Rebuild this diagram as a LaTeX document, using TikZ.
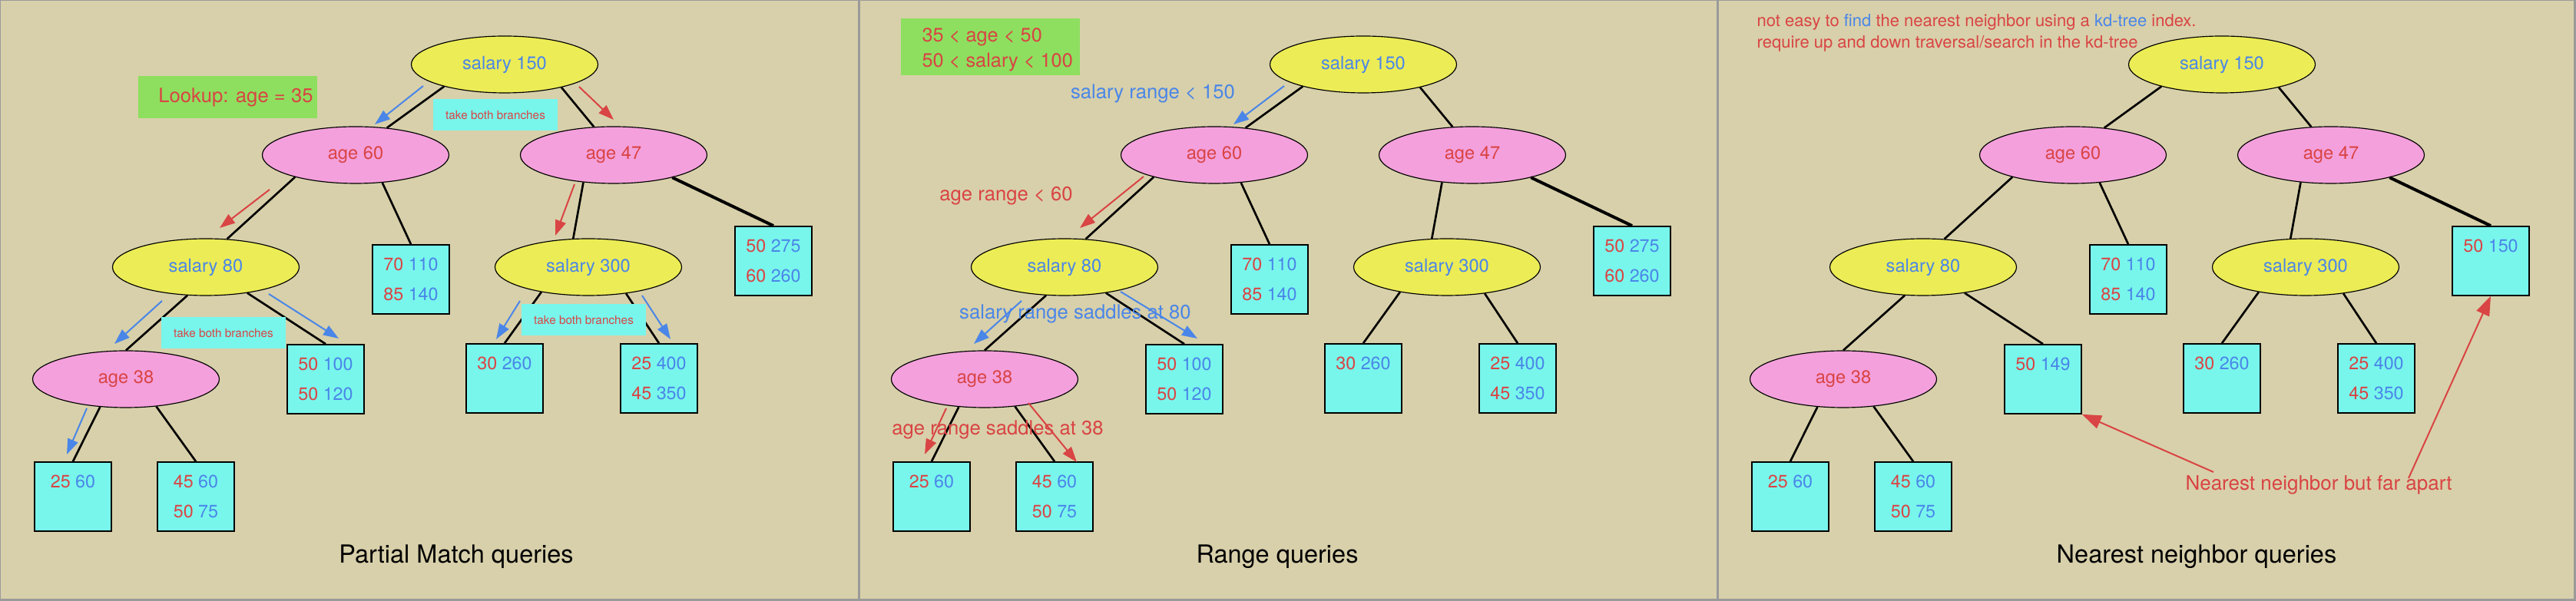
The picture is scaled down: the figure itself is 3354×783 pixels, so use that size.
\documentclass[tikz,border=0pt]{standalone}
\usepackage{fontspec}
\setmainfont{TeX Gyre Heros}
\usetikzlibrary{arrows.meta,shapes.geometric}
\definecolor{bg}{HTML}{D8D0AA}
\definecolor{framegray}{HTML}{9A9A9A}
\definecolor{ylw}{HTML}{ECEC56}
\definecolor{pnk}{HTML}{F4A0DC}
\definecolor{cyn}{HTML}{78F6EC}
\definecolor{grn}{HTML}{8EDF5F}
\definecolor{rd}{HTML}{D94444}
\definecolor{bl}{HTML}{4A86E8}
\tikzset{
  base/.style={inner sep=0pt, font=\fontsize{7.1}{8.5}\selectfont},
  salnode/.style={base, ellipse, draw=black, line width=0.35pt, fill=ylw,
    minimum width=72.9pt, minimum height=22.2pt, text=bl},
  agenode/.style={salnode, fill=pnk, text=rd},
  leaf/.style={base, rectangle, draw=black, line width=0.5pt, fill=cyn,
    minimum width=30pt, minimum height=27pt, align=center,
    font=\fontsize{7}{11.7}\selectfont},
  edge/.style={line width=0.8pt, draw=black},
  annarrow/.style={line width=0.6pt, -{Triangle[length=6pt,width=4.2pt]}},
  bigarrow/.style={line width=0.6pt, -{Triangle[length=7.5pt,width=5.4pt]}},
  tbb/.style={base, fill=cyn, minimum width=48.6pt, minimum height=12.3pt,
    text=rd, font=\fontsize{4.6}{5}\selectfont},
  lbl/.style={base, font=\fontsize{7.7}{9}\selectfont},
  ttl/.style={base, font=\fontsize{9.75}{11}\selectfont},
  hdr/.style={base, anchor=west, text=rd, font=\fontsize{6.6}{8}\selectfont},
}
\newcommand{\rb}[2]{\textcolor{rd}{#1} \textcolor{bl}{#2}}
% #1 prefix, #2 content of right leaf of age 47, #3 content of right leaf of salary 80
\newcommand{\kdtree}[3]{%
  \node[salnode] (#1s150) at (657,84) {salary 150};
  \node[agenode] (#1a60) at (463,202) {age 60};
  \node[agenode] (#1a47) at (799,202) {age 47};
  \node[salnode] (#1s80) at (268,348) {salary 80};
  \node[salnode] (#1s300) at (766,348) {salary 300};
  \node[agenode] (#1a38) at (164,494) {age 38};
  \node[leaf] (#1b1) at (535,364) {\rb{70}{110}\\\rb{85}{140}};
  \node[leaf] (#1b2) at (1007,340) {#2};
  \node[leaf] (#1b3) at (424,494) {#3};
  \node[leaf] (#1b4) at (657,493) {\rb{30}{260}\\\phantom{0}};
  \node[leaf] (#1b5) at (858,493) {\rb{25}{400}\\\rb{45}{350}};
  \node[leaf] (#1b6) at (95,647) {\rb{25}{60}\\\phantom{0}};
  \node[leaf] (#1b7) at (255,647) {\rb{45}{60}\\\rb{50}{75}};
  \draw[edge] (#1s150.200) -- (#1a60.41);
  \draw[edge] (#1s150.338) -- (#1a47.125);
  \draw[edge] (#1a60.200) -- (#1s80.53);
  \draw[edge] (#1a60.314) -- (#1b1.north);
  \draw[edge] (#1a47.222) -- (#1s300.118);
  \draw[edge, line width=1.2pt] (#1a47.339) -- (#1b2.north);
  \draw[edge] (#1s80.237) -- (#1a38.north);
  \draw[edge] (#1s80.328) -- (#1b3.north);
  \draw[edge] (#1s300.208) -- (#1b4.north);
  \draw[edge] (#1s300.325) -- (#1b5.north);
  \draw[edge] (#1a38.227) -- (#1b6.north);
  \draw[edge] (#1a38.318) -- (#1b7.north);
}
\begin{document}
\begin{tikzpicture}[x=0.3pt, y=-0.3pt]
\useasboundingbox (0,0) rectangle (3354,783);
\fill[framegray] (0,0) rectangle (3354,783);
\fill[bg] (1,1) rectangle (1117,780);
\fill[bg] (1120,1) rectangle (2235,780);
\fill[bg] (2238,1) rectangle (3351,780);

% ---------------- Panel 1: Partial match ----------------
\begin{scope}
  \kdtree{p}{\rb{50}{275}\\\rb{60}{260}}{\rb{50}{100}\\\rb{50}{120}}
  \node[base, fill=grn, minimum width=69.9pt, minimum height=16.5pt] (plook) at (296,127) {};
  \node[lbl, text=rd] (plookt) at ([xshift=3.3pt]plook.center) {Lookup: age = 35};
  \node[tbb] (ptbb1) at (645,150) {take both branches};
  \node[tbb] (ptbb2) at (291,434) {take both branches};
  \node[tbb] (ptbb3) at (760,417) {take both branches};
  \coordinate (pa1s) at (551,112); \coordinate (pa1e) at (488,162);
  \coordinate (pa2s) at (754,113); \coordinate (pa2e) at (799,156);
  \coordinate (pa3s) at (351,247); \coordinate (pa3e) at (286,297);
  \coordinate (pa4s) at (748,240); \coordinate (pa4e) at (723,307);
  \coordinate (pa5s) at (211,392); \coordinate (pa5e) at (149,448);
  \coordinate (pa6s) at (350,383); \coordinate (pa6e) at (441,441);
  \coordinate (pa7s) at (113,532); \coordinate (pa7e) at (87,592);
  \coordinate (pa8s) at (677,392); \coordinate (pa8e) at (646,442);
  \coordinate (pa9s) at (836,385); \coordinate (pa9e) at (873,442);
  \draw[annarrow, bl] (pa1s) -- (pa1e);
  \draw[annarrow, rd] (pa2s) -- (pa2e);
  \draw[annarrow, rd] (pa3s) -- (pa3e);
  \draw[annarrow, rd] (pa4s) -- (pa4e);
  \draw[annarrow, bl] (pa5s) -- (pa5e);
  \draw[annarrow, bl] (pa6s) -- (pa6e);
  \draw[annarrow, bl] (pa7s) -- (pa7e);
  \draw[annarrow, bl] (pa8s) -- (pa8e);
  \draw[annarrow, bl] (pa9s) -- (pa9e);
  \node[ttl] (ptitle) at (594,725) {Partial Match queries};
\end{scope}

% ---------------- Panel 2: Range ----------------
\begin{scope}[xshift=335.4pt]
  \kdtree{q}{\rb{50}{275}\\\rb{60}{260}}{\rb{50}{100}\\\rb{50}{120}}
  \node[base, fill=grn, minimum width=69.9pt, minimum height=22.2pt] (qgreen) at (171,61) {};
  \node[base, anchor=west, align=left, text=rd, font=\fontsize{7.6}{9.9}\selectfont]
    (qgreent) at ([xshift=8.4pt,yshift=-1.2pt]qgreen.west) {35 < age < 50\\50 < salary < 100};
  \coordinate (qa1s) at (554,112); \coordinate (qa1e) at (488,162);
  \coordinate (qa2s) at (371,230); \coordinate (qa2e) at (288,297);
  \coordinate (qa3s) at (212,392); \coordinate (qa3e) at (150,448);
  \coordinate (qa4s) at (341,380); \coordinate (qa4e) at (441,441);
  \coordinate (qa5s) at (114,532); \coordinate (qa5e) at (86,592);
  \coordinate (qa6s) at (221,525); \coordinate (qa6e) at (284,602);
  \draw[annarrow, bl] (qa1s) -- (qa1e);
  \draw[annarrow, rd] (qa2s) -- (qa2e);
  \draw[annarrow, bl] (qa3s) -- (qa3e);
  \draw[annarrow, bl] (qa4s) -- (qa4e);
  \draw[annarrow, rd] (qa5s) -- (qa5e);
  \draw[annarrow, rd] (qa6s) -- (qa6e);
  \node[lbl, text=bl] (ql1) at (383,122) {salary range < 150};
  \node[lbl, text=rd] (ql2) at (192,255) {age range < 60};
  \node[lbl, text=bl] (ql3) at (282,409) {salary range saddles at 80};
  \node[lbl, text=rd] (ql4) at (181,560) {age range saddles at 38};
  \node[ttl] (qtitle) at (545,725) {Range queries};
\end{scope}

% ---------------- Panel 3: Nearest neighbor ----------------
\begin{scope}[xshift=670.8pt]
  \kdtree{r}{\rb{50}{150}\\\phantom{0}}{\rb{50}{149}\\\phantom{0}}
  \node[hdr] (rh1) at (51,29) {not easy to \textcolor{bl}{find} the nearest neighbor using a \textcolor{bl}{kd-tree} index.};
  \node[hdr] (rh2) at (51,57) {require up and down traversal/search in the kd-tree};
  \coordinate (ra1s) at (646,615); \coordinate (ra2s) at (900,623);
  \draw[bigarrow, rd] (ra1s) -- (rb3.south east);
  \draw[bigarrow, rd] (ra2s) -- (rb2.south);
  \node[lbl, text=rd, font=\fontsize{7.8}{9}\selectfont] (rnn) at (783,632) {Nearest neighbor but far apart};
  \node[ttl] (rtitle) at (624,725) {Nearest neighbor queries};
\end{scope}
\end{tikzpicture}
\end{document}
